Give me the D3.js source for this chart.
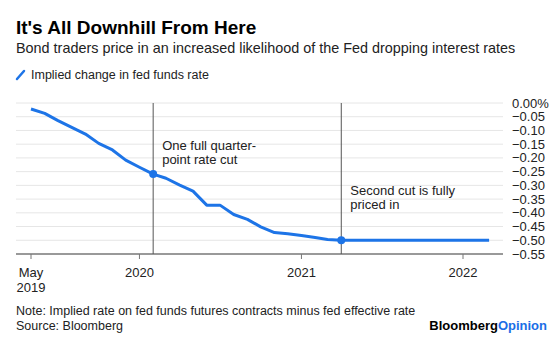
<!DOCTYPE html>
<html>
<head>
<meta charset="utf-8">
<script src="https://cdn.jsdelivr.net/npm/d3@7"></script>
<style>
  body { margin: 0; background: #fff; }
  svg { font-family: "Liberation Sans", Arial, sans-serif; display: block; }
</style>
</head>
<body>
<script>
// monthly points, May 2019 .. Mar 2022
const months = [
  "2019-05", "2019-06", "2019-07", "2019-08", "2019-09", "2019-10", "2019-11", "2019-12",
  "2020-01", "2020-02", "2020-03", "2020-04", "2020-05", "2020-06", "2020-07", "2020-08",
  "2020-09", "2020-10", "2020-11", "2020-12", "2021-01", "2021-02", "2021-03", "2021-04",
  "2021-05", "2021-06", "2021-07", "2021-08", "2021-09", "2021-10", "2021-11", "2021-12",
  "2022-01", "2022-02", "2022-03"
];
const impliedChange = [
  -0.022, -0.038, -0.064, -0.089, -0.113, -0.147, -0.171, -0.208,
  -0.234, -0.259, -0.274, -0.299, -0.321, -0.372, -0.372, -0.406,
  -0.424, -0.451, -0.472, -0.476, -0.483, -0.490, -0.497, -0.500,
  -0.500, -0.500, -0.500, -0.500, -0.500, -0.500, -0.500, -0.500,
  -0.500, -0.500, -0.500
];
const yTicks = [0, -0.05, -0.10, -0.15, -0.20, -0.25, -0.30, -0.35, -0.40, -0.45, -0.50, -0.55];
const xTicks = ["2019-05", "2020-01", "2021-01", "2022-01"];
const xTickLabels = [["May", "2019"], ["2020"], ["2021"], ["2022"]];
const annotations = [
  { month: "2020-02", lines: ["One full quarter-", "point rate cut"], labelY: -0.17 },
  { month: "2021-04", lines: ["Second cut is fully", "priced in"], labelY: -0.335 }
];

const width = 560, height = 340;
const gridLeft = 16, gridRight = 503;
const blue = "#1d74e7";

const parse = d3.utcParse("%Y-%m");
const data = months.map((m, i) => ({ date: parse(m), value: impliedChange[i] }));

const x = d3.scaleUtc([parse("2019-05"), parse("2022-01")], [31, 463]);
const y = d3.scaleLinear([-0.55, 0], [254, 103]);

const svg = d3.select("body").append("svg")
  .attr("width", width)
  .attr("height", height);

// header
svg.append("text")
  .attr("x", 16).attr("y", 34)
  .attr("font-size", 19).attr("font-weight", "bold").attr("fill", "#000")
  .text("It's All Downhill From Here");

svg.append("text")
  .attr("x", 16).attr("y", 53)
  .attr("font-size", 14.4).attr("fill", "#222")
  .text("Bond traders price in an increased likelihood of the Fed dropping interest rates");

// legend
svg.append("line")
  .attr("x1", 17).attr("y1", 79).attr("x2", 24).attr("y2", 71)
  .attr("stroke", blue).attr("stroke-width", 2.5).attr("stroke-linecap", "round");
svg.append("text")
  .attr("x", 31).attr("y", 79)
  .attr("font-size", 12.5).attr("fill", "#222")
  .text("Implied change in fed funds rate");

// grid + y labels
svg.append("g")
  .selectAll("line")
  .data(yTicks.slice(0, -1))
  .join("line")
    .attr("x1", gridLeft).attr("x2", gridRight)
    .attr("y1", d => y(d)).attr("y2", d => y(d))
    .attr("stroke", "#e6e6e6").attr("stroke-width", 1);

svg.append("g")
  .selectAll("text")
  .data(yTicks)
  .join("text")
    .attr("x", 512).attr("y", d => y(d))
    .attr("dy", "0.35em")
    .attr("font-size", 13).attr("fill", "#222")
    .text((d, i) => i === 0 ? "0.00%" : d3.format(".2f")(d));

// x axis
svg.append("line")
  .attr("x1", gridLeft).attr("x2", gridRight)
  .attr("y1", y(-0.55)).attr("y2", y(-0.55))
  .attr("stroke", "#777").attr("stroke-width", 1.5);

const xt = svg.append("g")
  .selectAll("g")
  .data(xTicks)
  .join("g")
    .attr("transform", d => `translate(${x(parse(d))},${y(-0.55)})`);
xt.append("line").attr("y1", 0).attr("y2", 5).attr("stroke", "#777");
xt.append("text")
  .attr("text-anchor", "middle")
  .attr("font-size", 13).attr("fill", "#222")
  .selectAll("tspan")
  .data((d, i) => xTickLabels[i])
  .join("tspan")
    .attr("x", 0)
    .attr("y", (d, j) => 23 + j * 15)
    .text(d => d);

// annotation lines
annotations.forEach(a => {
  const ax = x(parse(a.month));
  svg.append("line")
    .attr("x1", ax).attr("x2", ax)
    .attr("y1", y(0)).attr("y2", y(-0.55))
    .attr("stroke", "#555").attr("stroke-width", 1);
  svg.append("text")
    .attr("font-size", 13).attr("fill", "#222")
    .selectAll("tspan")
    .data(a.lines)
    .join("tspan")
      .attr("x", ax + 9)
      .attr("y", (d, j) => y(a.labelY) + j * 14)
      .text(d => d);
});

// series line
const line = d3.line()
  .x(d => x(d.date))
  .y(d => y(d.value));

svg.append("path")
  .datum(data)
  .attr("fill", "none")
  .attr("stroke", blue)
  .attr("stroke-width", 3)
  .attr("stroke-linejoin", "round")
  .attr("d", line);

// dots where lines cross
svg.append("g")
  .selectAll("circle")
  .data(annotations.map(a => data.find(d => +d.date === +parse(a.month))))
  .join("circle")
    .attr("cx", d => x(d.date)).attr("cy", d => y(d.value))
    .attr("r", 4).attr("fill", blue);

// footer
svg.append("text")
  .attr("x", 16).attr("y", 315)
  .attr("font-size", 12.5).attr("fill", "#222")
  .text("Note: Implied rate on fed funds futures contracts minus fed effective rate");
svg.append("text")
  .attr("x", 16).attr("y", 330)
  .attr("font-size", 12.5).attr("fill", "#222")
  .text("Source: Bloomberg");

const brand = svg.append("text")
  .attr("x", 547).attr("y", 330)
  .attr("text-anchor", "end")
  .attr("font-size", 13).attr("font-weight", "bold");
brand.append("tspan").attr("fill", "#000").text("Bloomberg");
brand.append("tspan").attr("fill", "#1a6ee6").text("Opinion");
</script>
</body>
</html>
